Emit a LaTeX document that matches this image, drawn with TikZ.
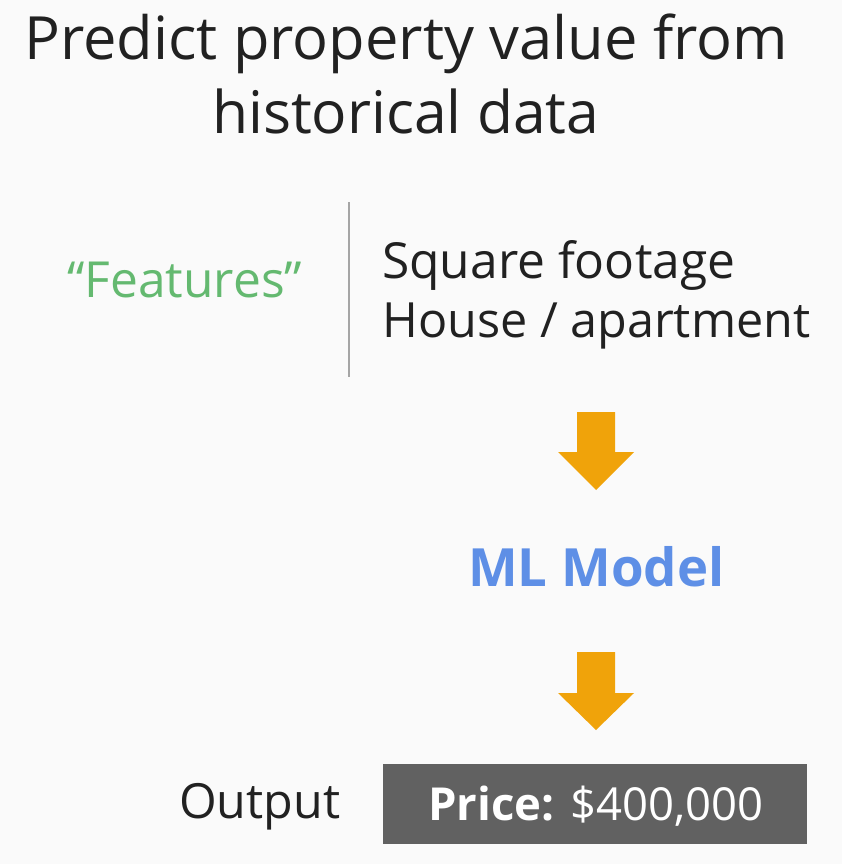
\documentclass[tikz,border=0pt]{standalone}
\usepackage{fontspec}
\setmainfont{Open Sans}
\usepackage{graphicx}
\usetikzlibrary{calc}
\definecolor{bgc}{RGB}{250,250,250}
\definecolor{txt}{RGB}{33,33,33}
\definecolor{featgreen}{RGB}{100,185,112}
\definecolor{mlblue}{RGB}{94,143,230}
\definecolor{arrowc}{RGB}{240,163,10}
\definecolor{boxc}{RGB}{97,97,97}
\definecolor{rulec}{RGB}{165,165,165}
\tikzset{
  lbl/.style={inner sep=0pt, anchor=base west, text=txt},
  blockarrow/.style={fill=arrowc, draw=none},
}
\newcommand{\fitw}[2]{\resizebox{#1pt}{!}{#2}}
\begin{document}
\begin{tikzpicture}[x=1pt,y=-1pt]
\fill[bgc] (0,0) rectangle (842,864);
\useasboundingbox (0,0) rectangle (842,864);
\node[lbl] (t1) at (24,60) {\fitw{764}{Predict property value from}};
\node[lbl] (t2) at (212,133) {\fitw{387}{historical data}};
\coordinate (rtop) at (349,202);
\coordinate (rbot) at (349,377);
\draw[rulec, line width=1.5pt] (rtop) -- (rbot);
\node[lbl, text=featgreen] (feat) at (67,297) {\fitw{235}{“Features”}};
\node[lbl] (sq) at (382,278) {\fitw{353}{Square footage}};
\node[lbl] (house) at (382,337) {\fitw{428}{House / apartment}};
\coordinate (a1) at (596,412);
\fill[blockarrow] ($(a1)+(-19,0)$) -- ($(a1)+(19,0)$) -- ($(a1)+(19,40)$) -- ($(a1)+(38,40)$) -- ($(a1)+(0,78)$) -- ($(a1)+(-38,40)$) -- ($(a1)+(-19,40)$) -- cycle;
\node[lbl, text=mlblue] (ml) at (468,586) {\fitw{256}{\bfseries ML Model}};
\coordinate (a2) at (596,652);
\fill[blockarrow] ($(a2)+(-19,0)$) -- ($(a2)+(19,0)$) -- ($(a2)+(19,41)$) -- ($(a2)+(38,41)$) -- ($(a2)+(0,78)$) -- ($(a2)+(-38,41)$) -- ($(a2)+(-19,41)$) -- cycle;
\node[lbl] (out) at (179,818) {\fitw{161}{Output}};
\node[fill=boxc, draw=none, inner sep=0pt, minimum width=424pt, minimum height=80pt, anchor=north west] (pricebox) at (383,764) {};
\node[lbl, text=white] (price) at (428,820) {\fitw{335}{\textbf{Price:} \$400,000}};
\end{tikzpicture}
\end{document}
